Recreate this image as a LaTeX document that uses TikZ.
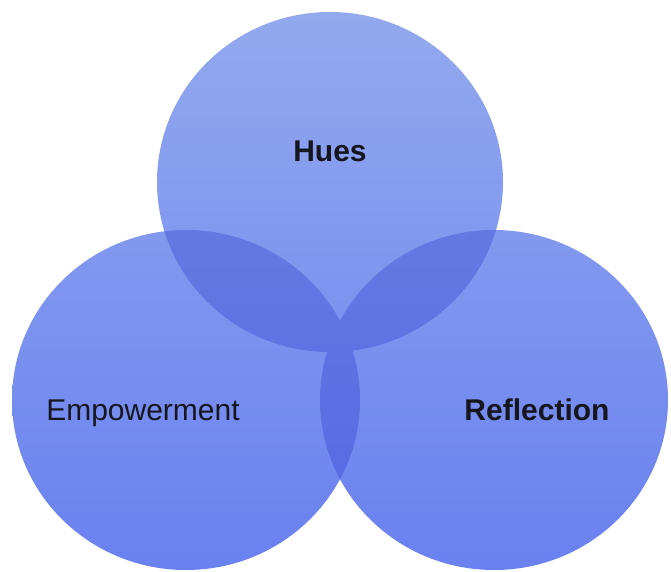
\documentclass[tikz,border=0pt]{standalone}
\usepackage{fontspec}
\setmainfont{Liberation Sans}
\definecolor{baseTop}{RGB}{148,170,238}
\definecolor{baseBottom}{RGB}{105,128,240}
\definecolor{darkTop}{RGB}{113,132,226}
\definecolor{darkBottom}{RGB}{84,103,227}
\definecolor{ink}{RGB}{22,22,30}
\tikzset{
  lbl/.style={text=ink, inner sep=0pt, anchor=base, font=\fontsize{30}{36}\selectfont},
  light/.style={top color=baseTop, bottom color=baseBottom},
  dark/.style={top color=darkTop, bottom color=darkBottom},
}
\newcommand{\topdisc}{(330,182) ellipse [x radius=173, y radius=170]}
\newcommand{\leftdisc}{(186,400) ellipse [x radius=174, y radius=170]}
\newcommand{\rightdisc}{(494,400) ellipse [x radius=174, y radius=170]}
\begin{document}
\begin{tikzpicture}[x=1pt, y=-1pt]
  \useasboundingbox (0,0) rectangle (671,572);
  % the three discs, one vertical gradient across the whole picture
  \begin{scope}
    \clip \topdisc \leftdisc \rightdisc;
    \shade[light] (0,0) rectangle (671,572);
  \end{scope}
  % top disc over the two lower ones
  \begin{scope}
    \clip \topdisc;
    \clip \leftdisc \rightdisc;
    \shade[dark] (0,0) rectangle (671,572);
  \end{scope}
  % lens between the two lower discs
  \begin{scope}
    \clip \leftdisc;
    \clip \rightdisc;
    \shade[dark] (0,0) rectangle (671,572);
  \end{scope}
  % labels
  \node[lbl] (hues) at (330,162) {\bfseries Hues};
  \node[lbl] (empowerment) at (143,420) {Empowerment};
  \node[lbl] (reflection) at (537,420) {\bfseries Reflection};
\end{tikzpicture}
\end{document}
